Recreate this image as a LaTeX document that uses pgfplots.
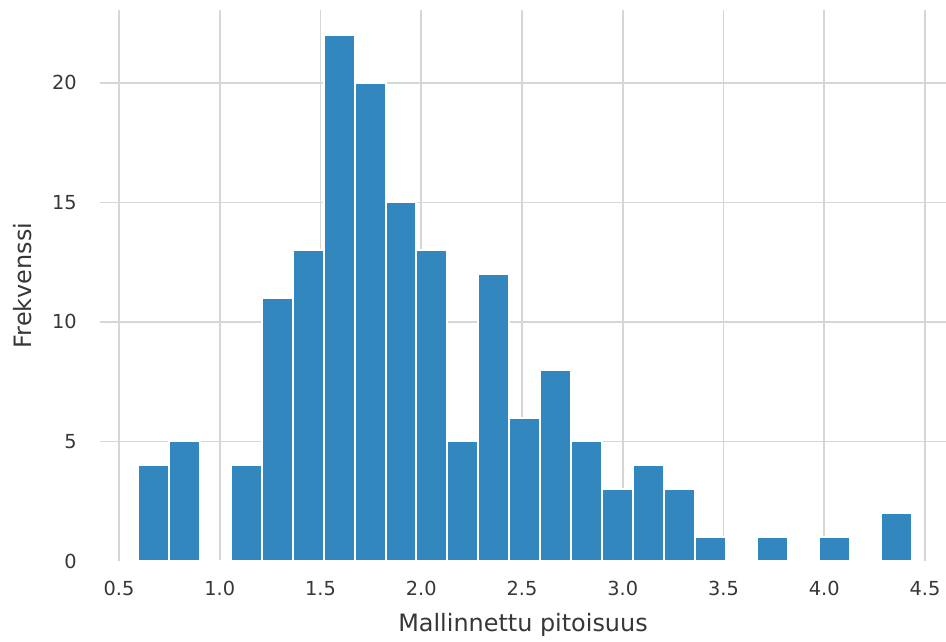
\documentclass[border=0pt]{standalone}
\usepackage{fontspec}
\setmainfont{DejaVu Sans}
\usepackage{pgfplots}
\pgfplotsset{compat=1.18}
\definecolor{barblue}{RGB}{50,135,190}
\definecolor{gridgray}{RGB}{214,214,214}
\definecolor{txt}{RGB}{55,55,55}
\begin{document}
\begin{tikzpicture}
\begin{axis}[
  set layers,
  scale only axis,
  width=423bp, height=275.5bp,
  xmin=0.4057, xmax=4.604,
  ymin=0, ymax=23.05,
  xtick={0.5,1.0,...,4.5},
  xticklabels={0.5,1.0,1.5,2.0,2.5,3.0,3.5,4.0,4.5},
  ytick={5,10,15,20},
  extra y ticks={0},
  extra y tick style={grid=none},
  grid=major,
  major grid style={draw=gridgray, line width=0.9bp},
  axis line style={draw=none},
  tick style={draw=none},
  major tick length=0pt,
  /pgf/number format/assume math mode=true,
  ticklabel style={font=\fontsize{9.7}{11}\selectfont, text=txt},
  xticklabel style={inner sep=0pt, anchor=north, yshift=-10bp},
  yticklabel style={inner sep=0pt, anchor=east, xshift=-11.5bp},
  xlabel={Mallinnettu pitoisuus},
  ylabel={Frekvenssi},
  xlabel style={font=\fontsize{12}{14}\selectfont, text=txt, inner sep=0pt,
    at={(axis description cs:0.5,0)}, anchor=north, yshift=-26bp},
  ylabel style={font=\fontsize{12}{14}\selectfont, text=txt, inner sep=0pt,
    at={([xshift=-43.5bp]axis description cs:0,0.5)}, anchor=north},
]
\addplot[ybar interval, fill=barblue, draw=white, line width=1bp] coordinates {
(0.594,4) (0.748,5) (0.901,0) (1.055,4) (1.208,11) (1.362,13) (1.516,22)
(1.669,20) (1.823,15) (1.976,13) (2.130,5) (2.284,12) (2.437,6) (2.591,8)
(2.744,5) (2.898,3) (3.052,4) (3.205,3) (3.359,1) (3.512,0) (3.666,1)
(3.820,0) (3.973,1) (4.127,0) (4.280,2) (4.434,2)
};
\end{axis}
\pgfresetboundingbox
\path ([xshift=-50bp,yshift=-40.5bp]current axis.south west) rectangle ([yshift=5bp]current axis.north east);
\end{tikzpicture}
\end{document}
